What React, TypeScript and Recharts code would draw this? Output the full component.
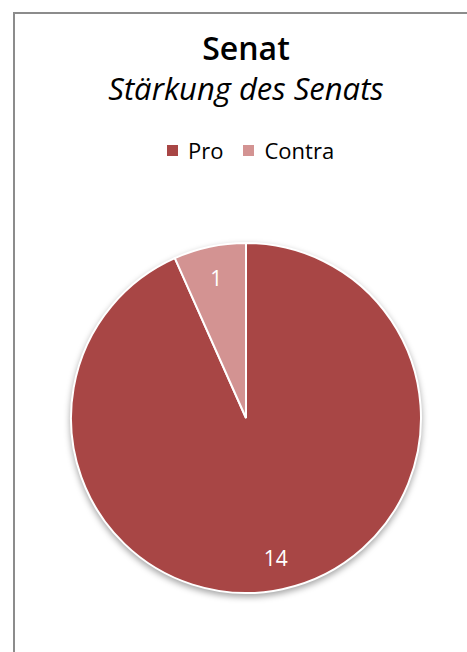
import React from "react";
import { PieChart, Pie, Cell } from "recharts";

// slice data
const labels = ["Pro", "Contra"];
const values = [14, 1];
const colors = ["#A84645", "#D39392"];

const data = labels.map((name, i) => ({ name, value: values[i] }));

const FONT = "'Open Sans', 'Noto Sans', sans-serif";

const RAD = Math.PI / 180;

// data label inside the slice, like Excel's default
const renderLabel = (props: any) => {
  const { cx, cy, midAngle, outerRadius, value } = props;
  const r = outerRadius * 0.82;
  const x = cx + r * Math.cos(-midAngle * RAD);
  const y = cy + r * Math.sin(-midAngle * RAD);
  return (
    <text
      x={x}
      y={y}
      fill="#ffffff"
      fontSize={21}
      fontFamily={FONT}
      textAnchor="middle"
      dominantBaseline="central"
    >
      {value}
    </text>
  );
};

const App: React.FC = () => {
  return (
    <div
      style={{
        position: "absolute",
        left: 0,
        top: 0,
        width: 467,
        height: 652,
        overflow: "hidden",
        background: "#fff",
        fontFamily: FONT,
      }}
    >
      <style>{`.recharts-pie { filter: drop-shadow(0 3px 3px rgba(0,0,0,0.35)); }`}</style>
      {/* chart area border, runs off the page on the right and bottom */}
      <div
        style={{
          position: "absolute",
          left: 13,
          top: 12,
          width: 470,
          height: 660,
          borderLeft: "2px solid #8c8c8c",
          borderTop: "2px solid #8c8c8c",
        }}
      />
      <div
        style={{
          position: "absolute",
          left: 0,
          width: 492,
          top: 28,
          textAlign: "center",
          color: "#000",
          lineHeight: "40px",
        }}
      >
        <div style={{ fontSize: 32, fontWeight: 600 }}>Senat</div>
        <div style={{ fontSize: 31, fontStyle: "italic", fontWeight: 500 }}>Stärkung des Senats</div>
      </div>
      {/* legend */}
      <div
        style={{
          position: "absolute",
          top: 136,
          left: 167,
          display: "flex",
          alignItems: "center",
          fontSize: 22,
          lineHeight: "28px",
          color: "#000",
        }}
      >
        {labels.map((l, i) => (
          <div key={l} style={{ display: "flex", alignItems: "center", marginRight: 20 }}>
            <span
              style={{ width: 11, height: 11, background: colors[i], display: "inline-block", marginRight: 10 }}
            />
            <span>{l}</span>
          </div>
        ))}
      </div>
      <PieChart
        width={467}
        height={652}
        margin={{ top: 0, right: 0, bottom: 0, left: 0 }}
        style={{ position: "absolute", left: 0, top: 0 }}
      >
        <Pie
          data={data}
          dataKey="value"
          nameKey="name"
          cx={246}
          cy={418}
          outerRadius={175}
          startAngle={90}
          endAngle={-270}
          stroke="#ffffff"
          strokeWidth={2}
          label={renderLabel}
          labelLine={false}
          isAnimationActive={false}
        >
          {data.map((d, i) => (
            <Cell key={d.name} fill={colors[i]} />
          ))}
        </Pie>
      </PieChart>
    </div>
  );
};

export default App;
